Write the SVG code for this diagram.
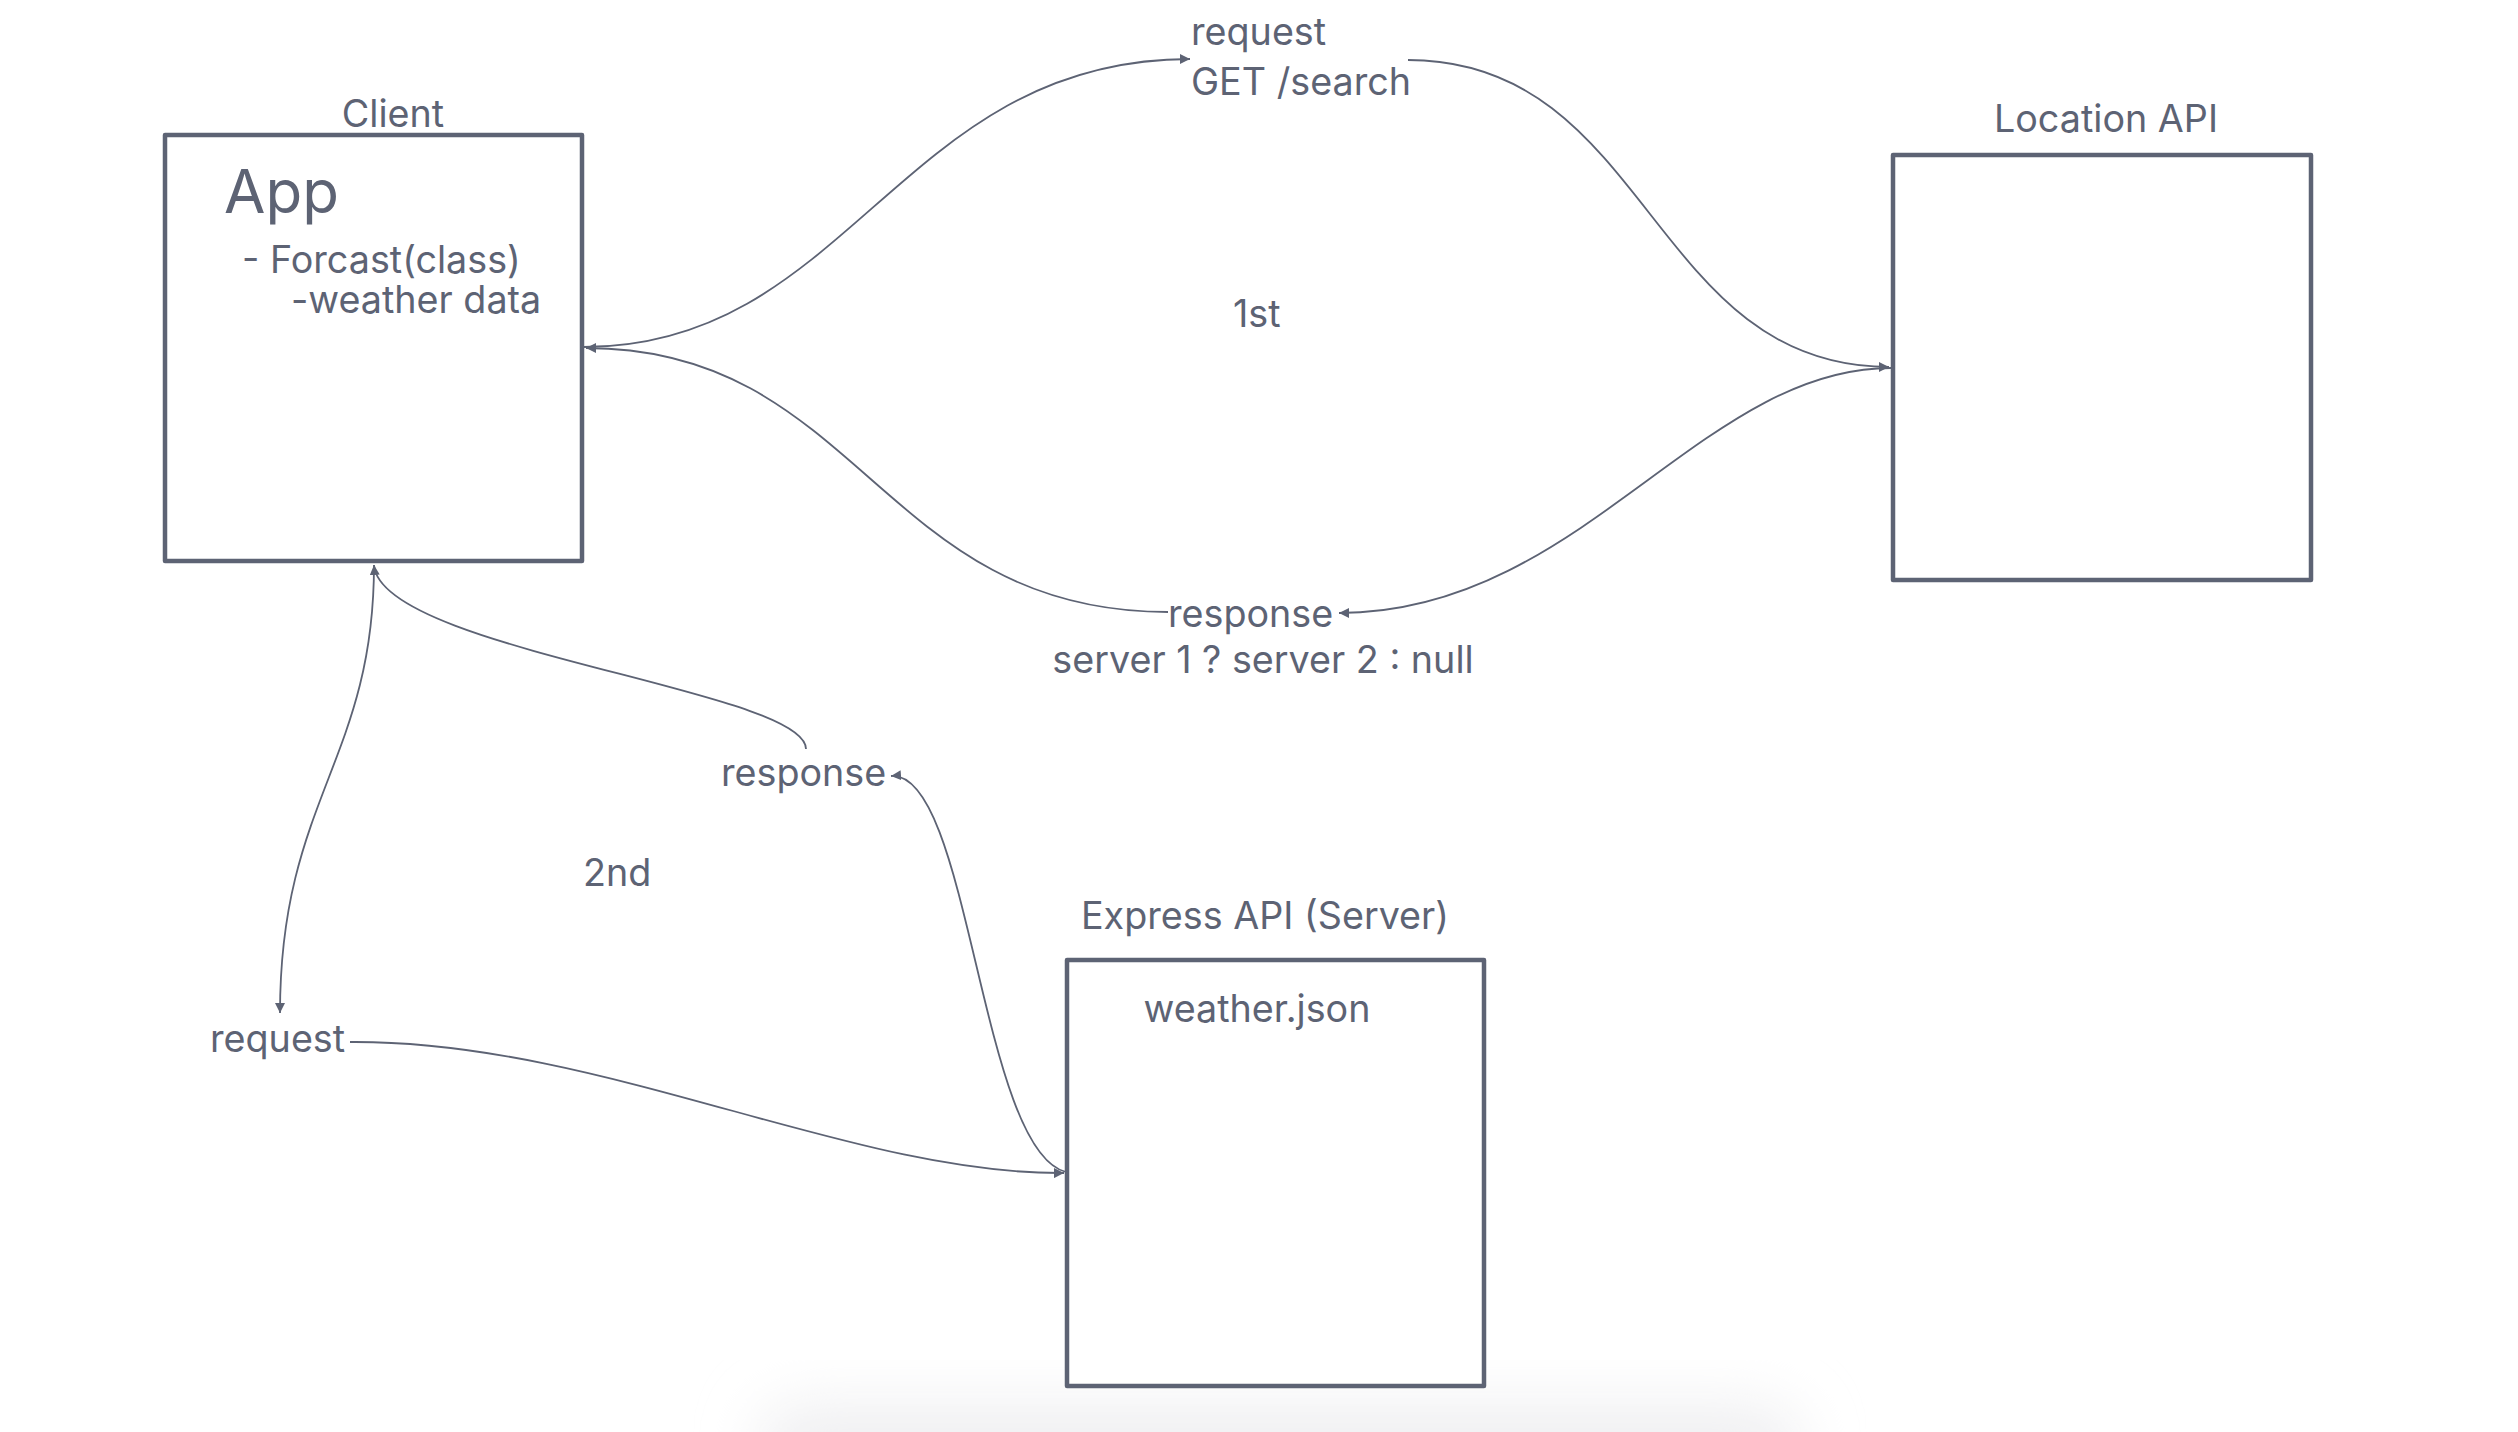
<svg xmlns="http://www.w3.org/2000/svg" width="2518" height="1432" viewBox="0 0 2518 1432">
<defs>
<style>
.box{fill:#ffffff;stroke:#5d6374;stroke-width:4.5;stroke-linejoin:round}
.t{font-family:Inter,"Open Sans","Liberation Sans",sans-serif;fill:#5d6374;font-size:37.7px}
.c{fill:none;stroke:#5d6374;stroke-width:1.8}
</style>
<marker id="ah" markerUnits="userSpaceOnUse" markerWidth="12" markerHeight="10" refX="10" refY="5" orient="auto">
<path d="M0,0 L10,5 L0,10 Z" fill="#5d6374"/>
</marker>
<filter id="blur" x="-20%" y="-50%" width="140%" height="200%">
<feGaussianBlur stdDeviation="30"/>
</filter>
</defs>
<rect width="2518" height="1432" fill="#ffffff"/>
<rect x="760" y="1405" width="1040" height="90" rx="40" fill="#efeff1" filter="url(#blur)"/>

<g id="connectors">
<path class="c" d="M584,347 C850,347 900,59 1190,59" marker-end="url(#ah)"/>
<path class="c" d="M1408,60 C1650,60 1650,367 1889,367" marker-end="url(#ah)"/>
<path class="c" d="M1891,368 C1700,368 1580,613 1339,613" marker-end="url(#ah)"/>
<path class="c" d="M1168,612 C880,612 860,348 586,348" marker-end="url(#ah)"/>
<path class="c" d="M374,565 C374,760 280,800 280,1013" marker-end="url(#ah)"/>
<path class="c" d="M350,1042 C600,1040 850,1175 1064,1173" marker-end="url(#ah)"/>
<path class="c" d="M1066,1172 C980,1150 970,770 891,776" marker-end="url(#ah)"/>
<path class="c" d="M806,749 C806,690 380,650 374,565" marker-end="url(#ah)"/>
</g>

<g id="client">
<rect class="box" x="165" y="135" width="417" height="426"/>
<text class="t" x="393" y="127" text-anchor="middle">Client</text>
<text class="t" x="224" y="213" style="font-size:60px">App</text>
<text class="t" x="242" y="273">- Forcast(class)</text>
<text class="t" x="291" y="313">-weather data</text>
</g>

<g id="location-api">
<rect class="box" x="1893" y="155" width="418" height="425"/>
<text class="t" x="2106" y="132" text-anchor="middle">Location API</text>
</g>

<g id="express-api">
<rect class="box" x="1067" y="960" width="417" height="426"/>
<text class="t" x="1265" y="929" text-anchor="middle">Express API (Server)</text>
<text class="t" x="1257" y="1022" text-anchor="middle">weather.json</text>
</g>

<g id="labels">
<text class="t" x="1191" y="45">request</text>
<text class="t" x="1191" y="95">GET /search</text>
<text class="t" x="1233" y="327">1st</text>
<text class="t" x="1168" y="627">response</text>
<text class="t" x="1263" y="673" text-anchor="middle">server 1 ? server 2 : null</text>
<text class="t" x="721" y="786">response</text>
<text class="t" x="583" y="886">2nd</text>
<text class="t" x="210" y="1052">request</text>
</g>
</svg>
